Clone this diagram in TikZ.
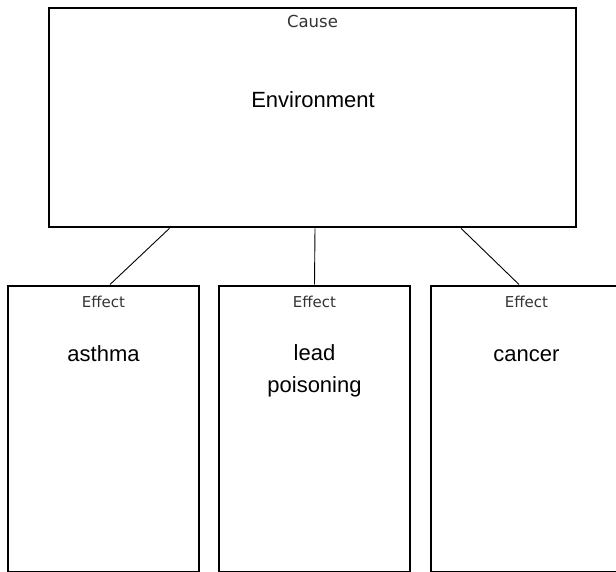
\documentclass[tikz,border=0pt]{standalone}
\usepackage{fontspec}
\setmainfont{Liberation Sans}
\newfontfamily\tagfont{DejaVu Sans}
\begin{document}
\begin{tikzpicture}[x=1pt,y=-1pt,
		box/.style={draw, rectangle, line width=2.6pt, inner sep=0pt},
		tag/.style={font=\tagfont\fontsize{15}{18}\selectfont, text=black!80, anchor=base},
		word/.style={font=\fontsize{22}{32}\selectfont, align=center, anchor=base}]
		\def\ytop{284.5} % Top of the effect boxes
		\def\bw{191} % Width of an effect box
		\def\bh{286} % Height of an effect box
		
		\clip (0,0) rectangle (616,572);
		
		% Cause box
		\node[box, minimum width=527pt, minimum height=219pt] (cause) at (312.5,117.5) {};
		\node[tag, font=\tagfont\fontsize{16.5}{18}\selectfont] (causetag) at (312.5,28) {Cause};
		\node[word] (env) at (313,107.5) {Environment};
		
		% Effect boxes (word y = baseline of the last line)
		\foreach \i/\x/\y/\txt in {1/103.5/361/asthma, 2/314.5/392/{lead\\poisoning}, 3/526.5/361/cancer} {
			\node[box, minimum width=\bw pt, minimum height=\bh pt, anchor=north] (eff\i) at (\x,\ytop) {};
			\node[tag] (efftag\i) at (\x,308) {Effect};
			\node[word] (effword\i) at (\x,\y) {\txt};
		}
		
		\draw[line width=0.9pt] ([xshift=-143pt]cause.south) -- ([xshift=6.5pt]eff1.north);
		\draw[line width=0.9pt] ([xshift=2.5pt]cause.south) -- (eff2.north);
		\draw[line width=0.9pt] ([xshift=148.5pt]cause.south) -- ([xshift=-7.5pt]eff3.north);
	\end{tikzpicture}
\end{document}
